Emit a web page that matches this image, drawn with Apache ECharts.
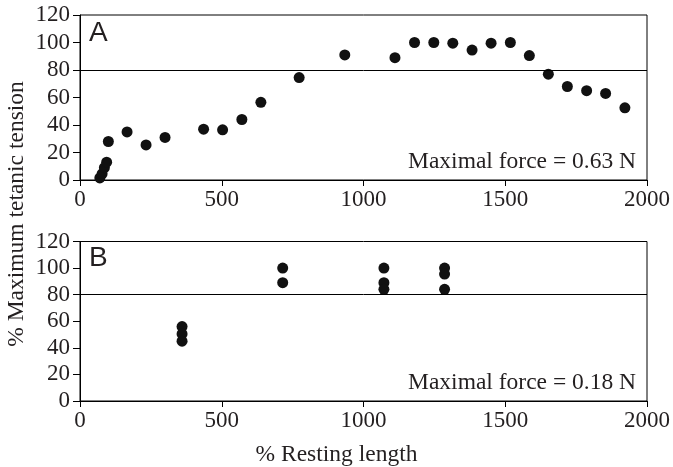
<!DOCTYPE html>
<html><head><meta charset="utf-8">
<script src="https://cdn.jsdelivr.net/npm/echarts@6/dist/echarts.min.js"></script>
<style>html,body{margin:0;padding:0;background:#fff}#c{width:673px;height:467px}</style>
</head><body><div id="c"></div>
<script>
// Panel A data
const aX = [70, 78, 86, 94, 100, 166, 233, 300, 436, 503, 571, 638, 773, 934, 1111, 1180, 1248, 1315, 1383, 1450, 1518, 1585, 1652, 1719, 1787, 1854, 1922];
const aY = [1.5, 4.5, 9, 13, 28, 35, 25.5, 31, 37, 36.5, 44, 56.5, 74.5, 91, 89, 100, 100, 99.5, 94.5, 99.5, 100, 90.5, 77, 68, 65, 63, 52.5];
// Panel B data
const bX = [360, 360, 360, 715, 715, 1072, 1072, 1072, 1286, 1286, 1286];
const bY = [56, 50.5, 45, 100, 89, 100, 89, 84, 100, 95.5, 84];
const xTicks = [0, 500, 1000, 1500, 2000];
const yTicks = [0, 20, 40, 60, 80, 100, 120];
const refLine = 80;
const labelA = 'A', labelB = 'B';
const forceA = 'Maximal force = 0.63 N', forceB = 'Maximal force = 0.18 N';
const xTitle = '% Resting length', yTitle = '% Maximum tetanic tension';

const serif = '"Liberation Serif", "DejaVu Serif", serif';
const txt = '#231f20';
const chart = echarts.init(document.getElementById('c'), null, {renderer: 'canvas'});

function xAxis(i) {
  return {
    type: 'value', gridIndex: i, min: xTicks[0], max: xTicks[xTicks.length - 1], interval: xTicks[1] - xTicks[0],
    axisLine: {show: true, onZero: false, lineStyle: {color: '#000', width: 1}},
    axisTick: {show: true, length: 6, lineStyle: {color: '#000'}},
    axisLabel: {color: txt, fontFamily: serif, fontSize: 23, margin: 8, formatter: v => String(v)},
    splitLine: {show: false}
  };
}
function yAxis(i) {
  return {
    type: 'value', gridIndex: i, min: yTicks[0], max: yTicks[yTicks.length - 1], interval: yTicks[1] - yTicks[0],
    axisLine: {show: true, lineStyle: {color: '#000', width: 1}},
    axisTick: {show: true, length: 7, lineStyle: {color: '#000'}},
    axisLabel: {color: txt, fontFamily: serif, fontSize: 23, margin: 10, formatter: v => String(v)},
    splitLine: {show: false}
  };
}
function pts(xs, ys) { return xs.map((x, i) => [x, ys[i]]); }
function series(i, xs, ys) {
  return {
    type: 'scatter', xAxisIndex: i, yAxisIndex: i, data: pts(xs, ys),
    symbolSize: 11, itemStyle: {color: '#111', opacity: 1}, silent: true,
    markLine: {silent: true, symbol: 'none', label: {show: false},
      lineStyle: {color: '#000', width: 1, type: 'solid'}, data: [{yAxis: refLine}]}
  };
}
chart.setOption({
  animation: false,
  grid: [
    {left: 80, right: 25, top: 15, height: 165, show: true, borderColor: '#000', borderWidth: 1},
    {left: 80, right: 25, top: 241.5, height: 159.5, show: true, borderColor: '#000', borderWidth: 1}
  ],
  xAxis: [xAxis(0), xAxis(1)],
  yAxis: [yAxis(0), yAxis(1)],
  series: [series(0, aX, aY), series(1, bX, bY)],
  graphic: [
    {type: 'text', left: 89, top: 19, style: {text: labelA, font: '28px "Liberation Sans", Arial, sans-serif', fill: txt}},
    {type: 'text', left: 89, top: 244, style: {text: labelB, font: '28px "Liberation Sans", Arial, sans-serif', fill: txt}},
    {type: 'text', right: 37, top: 150, style: {text: forceA, font: '23.5px ' + serif, fill: txt}},
    {type: 'text', right: 37, top: 371, style: {text: forceB, font: '23.5px ' + serif, fill: txt}},
    {type: 'text', left: 'center', top: 443, style: {text: xTitle, font: '23.5px ' + serif, fill: txt}},
    {type: 'text', x: 17, y: 214, rotation: Math.PI / 2, style: {text: yTitle, font: '23.5px ' + serif, fill: txt, align: 'center', verticalAlign: 'middle'}}
  ]
});
</script></body></html>
